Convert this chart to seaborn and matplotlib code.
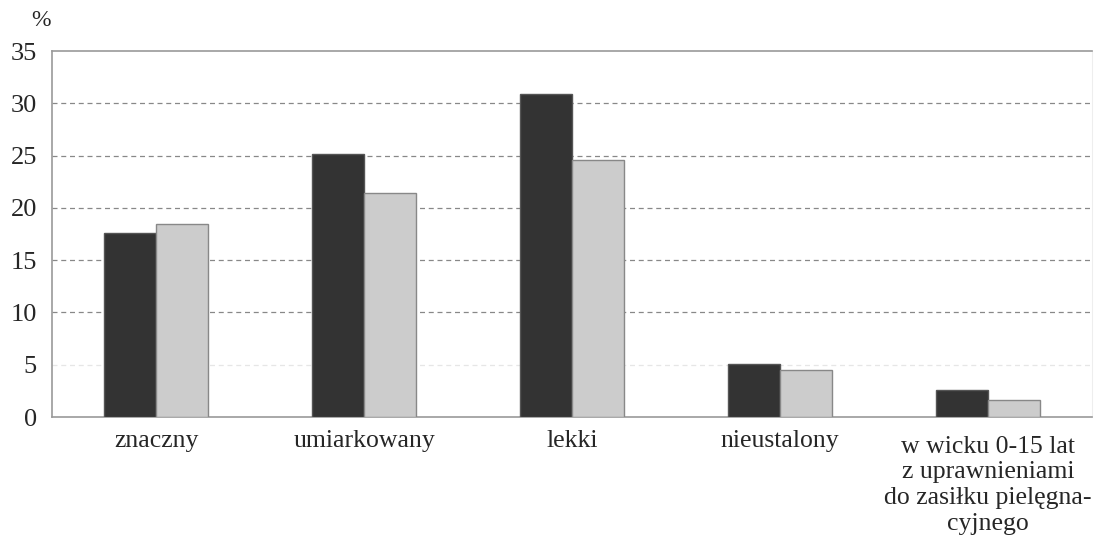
import matplotlib
matplotlib.use("Agg")
import matplotlib.pyplot as plt
import matplotlib.transforms as mtransforms
import seaborn as sns
import pandas as pd

categories = ["znaczny", "umiarkowany", "lekki", "nieustalony",
              "w wicku 0-15 lat\nz uprawnieniami\ndo zasiłku pielęgna-\ncyjnego"]
series_a = [17.6, 25.2, 30.9, 5.1, 2.6]
series_b = [18.5, 21.4, 24.6, 4.5, 1.6]
series_names = ["A", "B"]
yticks = [0, 5, 10, 15, 20, 25, 30, 35]

df = pd.DataFrame({
    "kat": categories * 2,
    "val": series_a + series_b,
    "ser": [series_names[0]] * len(categories) + [series_names[1]] * len(categories),
})

sns.set_style("white")
plt.rcParams["font.family"] = ["Liberation Serif", "DejaVu Serif"]

fig = plt.figure(figsize=(10.98, 5.43), dpi=100)
ax = fig.add_axes([0.0474, 0.232, 0.9472, 0.674])

sns.barplot(data=df, x="kat", y="val", hue="ser", order=categories,
            hue_order=series_names, palette=["#333333", "#cccccc"],
            width=0.5, gap=0, saturation=1, ax=ax, legend=False, zorder=3)
for i, p in enumerate(ax.patches):
    p.set_edgecolor("#555555" if p.get_facecolor()[0] < 0.5 else "#888888")
    p.set_linewidth(1.0)

for t in yticks[1:-1]:
    ax.axhline(t, color="#888888" if t != 5 else "#e6e6e6", linestyle=(0, (4, 3)),
               linewidth=0.9, zorder=1)

ax.set_ylim(0, 35)
ax.set_xlim(-0.5, len(categories) - 0.5)
ax.set_yticks(yticks)
ax.set_yticklabels([str(t) for t in yticks], fontsize=19)
ax.tick_params(axis="x", labelsize=18.5, pad=9, length=0)
ax.tick_params(axis="y", length=0, pad=11)
ax.set_xlabel("")
ax.set_ylabel("")
for s in ["left", "bottom", "top"]:
    ax.spines[s].set_color("#999999")
    ax.spines[s].set_linewidth(1.2)
ax.spines["right"].set_color("#eeeeee")
xlabels = ax.get_xticklabels()
for lbl in xlabels:
    lbl.set_linespacing(1.22)
xlabels[-1].set_transform(xlabels[-1].get_transform() +
                          mtransforms.ScaledTranslation(0, -6 / 100, fig.dpi_scale_trans))

fig.text(0.037, 0.962, "%", fontsize=17, ha="center", va="center")

fig.savefig("out.png", dpi=100)
